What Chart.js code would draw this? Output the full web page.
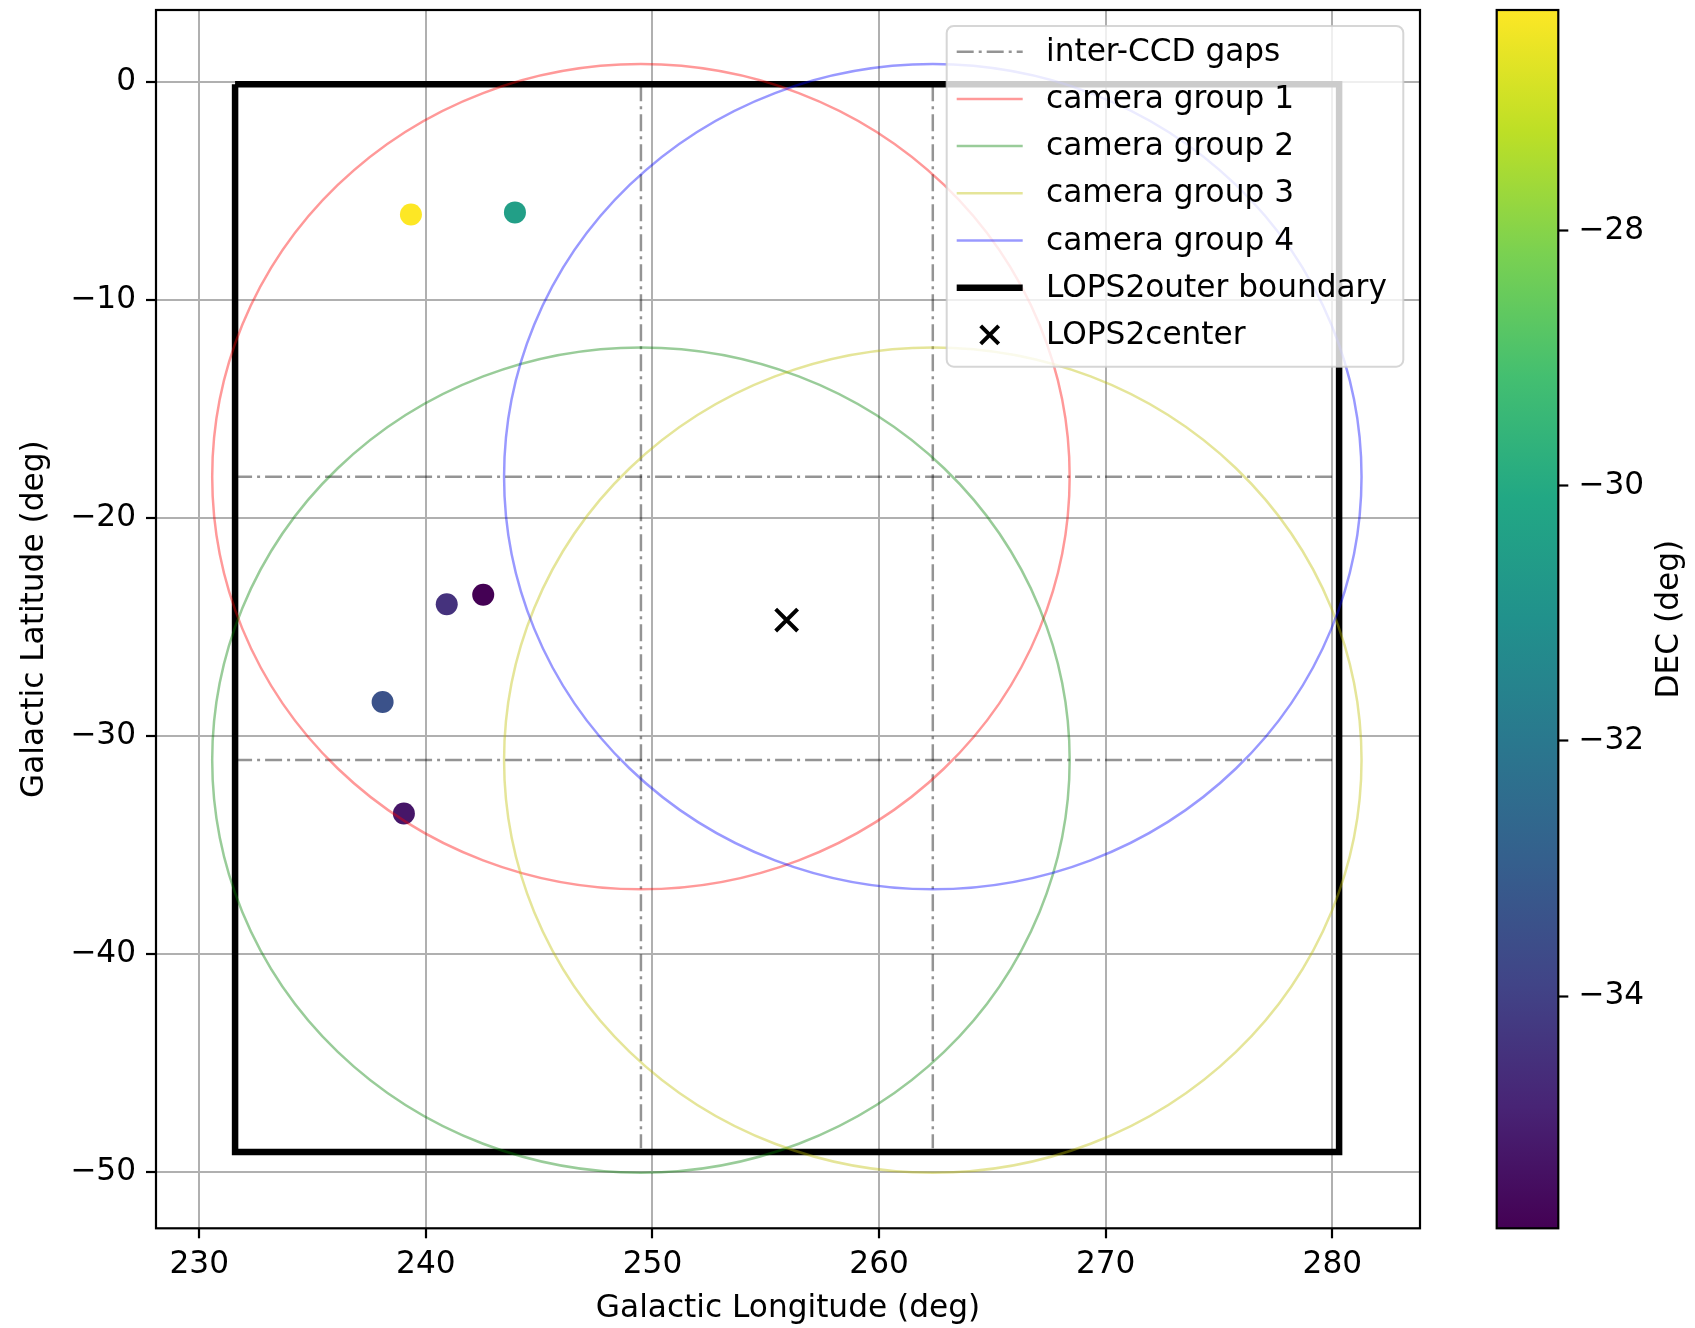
<!DOCTYPE html>
<html lang="en">
<head>
<meta charset="UTF-8">
<title>LOPS2 field</title>
<script src="https://cdn.jsdelivr.net/npm/chart.js"></script>
<style>
  body { margin: 0; background: #fff; }
  #wrap { position: relative; width: 1695px; height: 1328px; }
  #main { position: absolute; left: 0; top: 0; }
  #cbar { position: absolute; left: 1440px; top: 0; }
</style>
</head>
<body>
<div id="wrap">
  <canvas id="main" width="1440" height="1328"></canvas>
  <canvas id="cbar" width="255" height="1328"></canvas>
</div>
<script>
// stars (galactic l, b) and their declination
const STAR_L = [239.34, 243.93, 240.92, 242.53, 238.09, 239.03];
const STAR_B = [-6.09, -5.99, -23.96, -23.52, -28.44, -33.55];
const STAR_DEC = [-26.27, -30.45, -34.45, -35.82, -33.40, -35.25];

// inter-CCD gaps
const GAP_L = [249.49, 262.37];
const GAP_B = [-18.11, -31.10];

// camera groups: centre and radius (deg)
const CAM_LABELS = ['camera group 1', 'camera group 2', 'camera group 3', 'camera group 4'];
const CAM_L = [249.49, 249.49, 262.37, 262.37];
const CAM_B = [-18.11, -31.10, -31.10, -18.11];
const CAM_R = 18.92;

// LOPS2 outer boundary and centre
const BOUND_L = [231.58, 280.30, 280.30, 231.58, 231.58];
const BOUND_B = [-0.12, -0.12, -49.07, -49.07, -0.12];
const CENTER_L = [255.92];
const CENTER_B = [-24.68];

// axes
const L_TICKS = [230, 240, 250, 260, 270, 280];
const B_TICKS = [0, -10, -20, -30, -40, -50];
const L_RANGE = [228.09, 283.87];
const B_RANGE = [-52.57, 3.29];
const DEC_TICKS = [-28, -30, -32, -34];
const DEC_RANGE = [-35.82, -26.27];

const FONT = 'DejaVu Sans';
const FS = 31.2;
const CAM_COLORS = ['rgba(255,0,0,0.4)', 'rgba(0,128,0,0.4)', 'rgba(191,191,0,0.4)', 'rgba(0,0,255,0.4)'];
const GAP_COLOR = 'rgba(0,0,0,0.42)';
const GAP_DASH = [17, 5, 3, 5];

const VIRIDIS = ['#440154', '#482475', '#414487', '#355f8d', '#2a788e', '#21918c',
                 '#22a884', '#44bf70', '#7ad151', '#bddf26', '#fde725'];

function hexRgb(h) {
    return [1, 3, 5].map(i => parseInt(h.substr(i, 2), 16));
}
function viridis(t) {
    t = Math.min(1, Math.max(0, t));
    const s = t * (VIRIDIS.length - 1);
    const i = Math.min(Math.floor(s), VIRIDIS.length - 2);
    const f = s - i;
    const a = hexRgb(VIRIDIS[i]), b = hexRgb(VIRIDIS[i + 1]);
    const c = a.map((v, k) => Math.round(v + (b[k] - v) * f));
    return `rgb(${c[0]},${c[1]},${c[2]})`;
}
function fmt(v) {
    return v < 0 ? '\u2212' + Math.abs(v) : String(v);
}
// keep the plot box where matplotlib put it
function noPad(s) {
    s.paddingTop = 0; s.paddingBottom = 0; s.paddingLeft = 0; s.paddingRight = 0;
}

const starColors = STAR_DEC.map(d => viridis((d - DEC_RANGE[0]) / (DEC_RANGE[1] - DEC_RANGE[0])));

const datasets = [];
datasets.push({
    type: 'scatter',
    data: STAR_L.map((l, i) => ({ x: l, y: STAR_B[i] })),
    pointRadius: 11,
    pointBackgroundColor: starColors,
    pointBorderWidth: 0,
    order: 5
});
GAP_L.forEach(l => datasets.push({
    type: 'line',
    data: [{ x: l, y: BOUND_B[0] }, { x: l, y: BOUND_B[2] + 0.17 }],
    borderColor: GAP_COLOR, borderWidth: 2.5, borderDash: GAP_DASH,
    pointRadius: 0, order: 4
}));
GAP_B.forEach(b => datasets.push({
    type: 'line',
    data: [{ x: BOUND_L[0], y: b }, { x: BOUND_L[1], y: b }],
    borderColor: GAP_COLOR, borderWidth: 2.5, borderDash: GAP_DASH,
    pointRadius: 0, order: 4
}));
datasets.push({
    type: 'line',
    data: BOUND_L.map((l, i) => ({ x: l, y: BOUND_B[i] })),
    borderColor: '#000', borderWidth: 6.5, borderJoinStyle: 'miter',
    pointRadius: 0, order: 3
});
datasets.push({
    type: 'scatter',
    data: CENTER_L.map((l, i) => ({ x: l, y: CENTER_B[i] })),
    pointStyle: 'crossRot', pointRadius: 15.5,
    pointBorderColor: '#000', pointBorderWidth: 4,
    order: 1
});

// camera footprints drawn as circles in data units
const circlePlugin = {
    id: 'cameraCircles',
    afterDatasetsDraw(chart) {
        const { ctx, chartArea: a, scales: { x, y } } = chart;
        ctx.save();
        ctx.beginPath();
        ctx.rect(a.left, a.top, a.width, a.height);
        ctx.clip();
        CAM_L.forEach((l, i) => {
            const cx = x.getPixelForValue(l);
            const cy = y.getPixelForValue(CAM_B[i]);
            const rx = Math.abs(x.getPixelForValue(l + CAM_R) - cx);
            const ry = Math.abs(y.getPixelForValue(CAM_B[i] + CAM_R) - cy);
            ctx.beginPath();
            ctx.ellipse(cx, cy, rx, ry, 0, 0, Math.PI * 2);
            ctx.strokeStyle = CAM_COLORS[i];
            ctx.lineWidth = 2.5;
            ctx.stroke();
        });
        ctx.restore();
    }
};

// axes frame + matplotlib-like legend
const framePlugin = {
    id: 'frameLegend',
    afterDraw(chart) {
        const { ctx, chartArea: a } = chart;
        ctx.save();
        ctx.strokeStyle = '#000';
        ctx.lineWidth = 2.2;
        ctx.strokeRect(a.left, a.top, a.width, a.height);

        // legend box
        const L = 946.7, T = 26, R = 1403.3, B = 366.7;
        ctx.beginPath();
        ctx.roundRect(L, T, R - L, B - T, 7);
        ctx.fillStyle = 'rgba(255,255,255,0.8)';
        ctx.fill();
        ctx.strokeStyle = 'rgba(204,204,204,0.8)';
        ctx.lineWidth = 2;
        ctx.stroke();

        const labels = ['inter-CCD gaps', ...CAM_LABELS, 'LOPS2outer boundary', 'LOPS2center'];
        const x0 = 956.7, x1 = 1022.7, tx = 1046;
        ctx.font = `${FS}px "${FONT}"`;
        ctx.textBaseline = 'middle';
        labels.forEach((lab, i) => {
            const yy = 51.7 + i * 47.2;
            ctx.save();
            if (i === 0) {
                ctx.strokeStyle = GAP_COLOR; ctx.lineWidth = 2.5; ctx.setLineDash(GAP_DASH);
                ctx.beginPath(); ctx.moveTo(x0, yy); ctx.lineTo(x1, yy); ctx.stroke();
            } else if (i <= 4) {
                ctx.strokeStyle = CAM_COLORS[i - 1]; ctx.lineWidth = 2.5;
                ctx.beginPath(); ctx.moveTo(x0, yy); ctx.lineTo(x1, yy); ctx.stroke();
            } else if (i === 5) {
                ctx.strokeStyle = '#000'; ctx.lineWidth = 6.5;
                ctx.beginPath(); ctx.moveTo(x0, yy); ctx.lineTo(x1, yy); ctx.stroke();
            } else {
                const cx = (x0 + x1) / 2, h = 9;
                ctx.strokeStyle = '#000'; ctx.lineWidth = 4;
                ctx.beginPath();
                ctx.moveTo(cx - h, yy - h); ctx.lineTo(cx + h, yy + h);
                ctx.moveTo(cx - h, yy + h); ctx.lineTo(cx + h, yy - h);
                ctx.stroke();
            }
            ctx.restore();
            ctx.fillStyle = '#000';
            ctx.fillText(lab, tx, yy + 1);
        });
        ctx.restore();
    }
};

const tickFont = { family: FONT, size: FS, lineHeight: 1.2 };
const gridOpts = { color: '#b0b0b0', lineWidth: 2, tickLength: 10, tickColor: '#000', tickWidth: 2.2 };

new Chart(document.getElementById('main'), {
    data: { datasets },
    options: {
        responsive: false,
        animation: false,
        devicePixelRatio: 1,
        layout: { autoPadding: false, padding: { left: 0, top: 10, right: 20, bottom: 0 } },
        plugins: { legend: { display: false }, tooltip: { enabled: false } },
        scales: {
            x: {
                type: 'linear', position: 'bottom',
                min: L_RANGE[0], max: L_RANGE[1],
                afterBuildTicks: s => { s.ticks = L_TICKS.map(v => ({ value: v })); },
                afterFit: s => { s.height = 99.7; noPad(s); },
                grid: gridOpts,
                border: { display: false },
                ticks: { font: tickFont, color: '#000', padding: 8, callback: fmt },
                title: { display: true, text: 'Galactic Longitude (deg)', color: '#000',
                         font: tickFont, padding: { top: 0, bottom: 0 } }
            },
            y: {
                type: 'linear', position: 'left',
                min: B_RANGE[0], max: B_RANGE[1],
                afterBuildTicks: s => { s.ticks = B_TICKS.map(v => ({ value: v })); },
                afterFit: s => { s.width = 156; noPad(s); },
                grid: gridOpts,
                border: { display: false },
                ticks: { font: tickFont, color: '#000', padding: 10, callback: fmt },
                title: { display: true, text: 'Galactic Latitude (deg)', color: '#000',
                         font: tickFont, padding: { top: 16, bottom: 0 } }
            }
        }
    },
    plugins: [circlePlugin, framePlugin]
});

// colour bar
const cbarPlugin = {
    id: 'cbarFill',
    beforeDatasetsDraw(chart) {
        const { ctx, chartArea: a } = chart;
        const g = ctx.createLinearGradient(0, a.bottom, 0, a.top);
        VIRIDIS.forEach((c, i) => g.addColorStop(i / (VIRIDIS.length - 1), c));
        ctx.save();
        ctx.fillStyle = g;
        ctx.fillRect(a.left, a.top, a.width, a.height);
        ctx.restore();
    },
    afterDraw(chart) {
        const { ctx, chartArea: a } = chart;
        ctx.save();
        ctx.strokeStyle = '#000';
        ctx.lineWidth = 2.2;
        ctx.strokeRect(a.left, a.top, a.width, a.height);
        ctx.translate(230, (a.top + a.bottom) / 2);
        ctx.rotate(-Math.PI / 2);
        ctx.font = `${FS}px "${FONT}"`;
        ctx.fillStyle = '#000';
        ctx.textAlign = 'center';
        ctx.textBaseline = 'middle';
        ctx.fillText('DEC (deg)', 0, 0);
        ctx.restore();
    }
};

new Chart(document.getElementById('cbar'), {
    type: 'scatter',
    data: { datasets: [] },
    options: {
        responsive: false,
        animation: false,
        devicePixelRatio: 1,
        layout: { autoPadding: false, padding: { left: 56.7, top: 10, right: 0, bottom: 99.7 } },
        plugins: { legend: { display: false }, tooltip: { enabled: false } },
        scales: {
            x: { display: false, min: 0, max: 1 },
            y: {
                type: 'linear', position: 'right',
                min: DEC_RANGE[0], max: DEC_RANGE[1],
                afterBuildTicks: s => { s.ticks = DEC_TICKS.map(v => ({ value: v })); },
                afterFit: s => { s.width = 136.7; noPad(s); },
                grid: { drawOnChartArea: false, tickLength: 10, tickColor: '#000', tickWidth: 2.2 },
                border: { display: false },
                ticks: { font: tickFont, color: '#000', padding: 10, callback: fmt }
            }
        }
    },
    plugins: [cbarPlugin]
});
</script>
</body>
</html>
